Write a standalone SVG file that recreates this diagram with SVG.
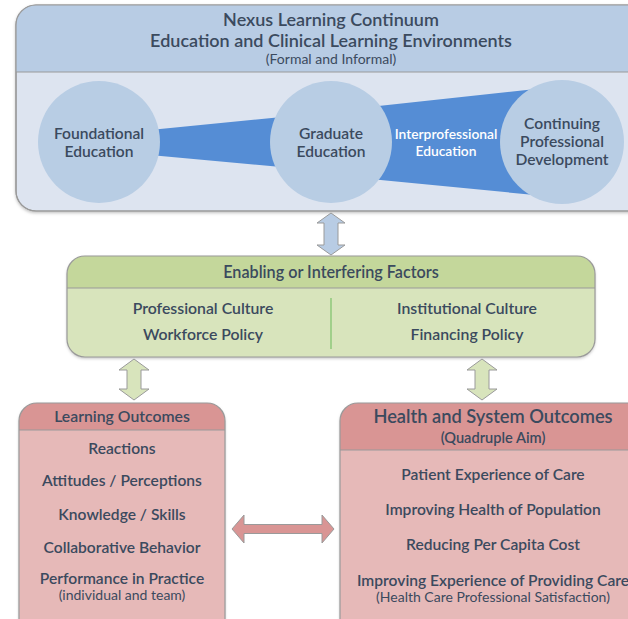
<svg xmlns="http://www.w3.org/2000/svg" width="628" height="619" viewBox="0 0 628 619">
<defs>
<filter id="sh" x="-5%" y="-5%" width="110%" height="115%">
<feDropShadow dx="0" dy="1.5" stdDeviation="1.5" flood-color="#000" flood-opacity="0.25"/>
</filter>
<style>
text{font-family:Lato,"Open Sans","Liberation Sans",sans-serif;fill:#3b4a5e;text-anchor:middle;font-weight:600}
.t17{font-size:18px}
.t15{font-size:15.6px}
.g{font-size:15.8px}
.t13{font-size:14px;font-weight:400}
.w{fill:#ffffff;font-size:13.8px;font-weight:600}
.box{stroke:#9a9a9a;stroke-width:1.2}
.circ{fill:#b8cde4}
</style>
</defs>

<g id="continuum">
<rect class="box" x="16" y="5" width="640" height="206" rx="20" fill="#dde4f0" filter="url(#sh)"/>
<path d="M16,72 V25 A20,20 0 0 1 36,5 H656 V72 Z" fill="#b8cce4"/>
<line x1="16" y1="72" x2="628" y2="72" stroke="#9a9a9a" stroke-width="1.2"/>
<rect x="16" y="5" width="640" height="206" rx="20" fill="none" class="box"/>
<text class="t17" x="331" y="26">Nexus Learning Continuum</text>
<text class="t17" x="331" y="47">Education and Clinical Learning Environments</text>
<text class="t13" x="331" y="64">(Formal and Informal)</text>
<polygon points="150,130 292,116 292,168 150,155" fill="#558dd5"/>
<polygon points="360,108 545,88 545,196 360,178" fill="#558dd5"/>
</g>
<g id="foundational">
<circle class="circ" cx="99" cy="142" r="61"/>
<text class="t15" x="99" y="139">Foundational</text>
<text class="t15" x="99" y="157">Education</text>
</g>
<g id="graduate">
<circle class="circ" cx="331" cy="142" r="61"/>
<text class="t15" x="331" y="139">Graduate</text>
<text class="t15" x="331" y="157">Education</text>
</g>
<g id="ipe">
<text class="w" x="446" y="139">Interprofessional</text>
<text class="w" x="446" y="156">Education</text>
</g>
<g id="cpd">
<circle class="circ" cx="562" cy="142" r="62"/>
<text class="t15" x="562" y="129">Continuing</text>
<text class="t15" x="562" y="147">Professional</text>
<text class="t15" x="562" y="165">Development</text>
</g>

<g id="factors">
<rect x="67" y="256" width="528" height="101" rx="18" fill="#d8e4bc" filter="url(#sh)"/>
<path d="M67,288 V274 A18,18 0 0 1 85,256 H577 A18,18 0 0 1 595,274 V288 Z" fill="#c4d79b"/>
<line x1="67" y1="288" x2="595" y2="288" stroke="#9a9a9a" stroke-width="1.2"/>
<rect class="box" x="67" y="256" width="528" height="101" rx="18" fill="none"/>
<text class="g" style="font-size:16.2px" x="331" y="278">Enabling or Interfering Factors</text>
<line x1="331" y1="298" x2="331" y2="349" stroke="#7cc26a" stroke-width="1.2"/>
<text class="g" x="203" y="314">Professional Culture</text>
<text class="g" x="203" y="340">Workforce Policy</text>
<text class="g" x="467" y="314">Institutional Culture</text>
<text class="g" x="467" y="340">Financing Policy</text>
</g>

<g id="learning">
<rect x="19" y="403" width="206" height="240" rx="18" fill="#e6b9b8" filter="url(#sh)"/>
<path d="M19,430 V421 A18,18 0 0 1 37,403 H207 A18,18 0 0 1 225,421 V430 Z" fill="#d99594"/>
<line x1="19" y1="430" x2="225" y2="430" stroke="#9a9a9a" stroke-width="1.2"/>
<rect class="box" x="19" y="403" width="206" height="240" rx="18" fill="none"/>
<text class="t15" style="font-size:15.8px" x="122" y="422">Learning Outcomes</text>
<text class="t15" x="122" y="454">Reactions</text>
<text class="t15" x="122" y="486">Attitudes / Perceptions</text>
<text class="t15" x="122" y="520">Knowledge / Skills</text>
<text class="t15" x="122" y="553">Collaborative Behavior</text>
<text class="t15" x="122" y="584">Performance in Practice</text>
<text class="t13" x="122" y="600">(individual and team)</text>
</g>

<g id="health">
<rect x="340" y="403" width="320" height="240" rx="18" fill="#e6b9b8" filter="url(#sh)"/>
<path d="M340,450 V421 A18,18 0 0 1 358,403 H660 V450 Z" fill="#d99594"/>
<line x1="340" y1="450" x2="628" y2="450" stroke="#9a9a9a" stroke-width="1.2"/>
<rect class="box" x="340" y="403" width="320" height="240" rx="18" fill="none"/>
<text class="t17" style="font-size:18.3px" x="493" y="423">Health and System Outcomes</text>
<text class="t15" style="font-size:14.6px" x="493" y="443">(Quadruple Aim)</text>
<text class="t15" x="493" y="480">Patient Experience of Care</text>
<text class="t15" x="493" y="515">Improving Health of Population</text>
<text class="t15" x="493" y="550">Reducing Per Capita Cost</text>
<text class="t15" x="493" y="586">Improving Experience of Providing Care</text>
<text class="t13" x="493" y="602">(Health Care Professional Satisfaction)</text>
</g>

<g id="connectors" stroke="#9a9a9a" stroke-width="1" stroke-linejoin="round">
<path d="M331,213 L345,223 L338,223 L338,245 L345,245 L331,255 L317,245 L324,245 L324,223 L317,223 Z" fill="#b8cce4"/>
<path d="M134,359 L149,370 L141,370 L141,389 L149,389 L134,400 L119,389 L127,389 L127,370 L119,370 Z" fill="#d8e4bc"/>
<path d="M482,359 L497,370 L489,370 L489,389 L497,389 L482,400 L467,389 L475,389 L475,370 L467,370 Z" fill="#d8e4bc"/>
<path d="M232,529 L244,515 L244,524.5 L322,524.5 L322,515 L334,529 L322,543 L322,533.5 L244,533.5 L244,543 Z" fill="#d99594"/>
</g>
</svg>
